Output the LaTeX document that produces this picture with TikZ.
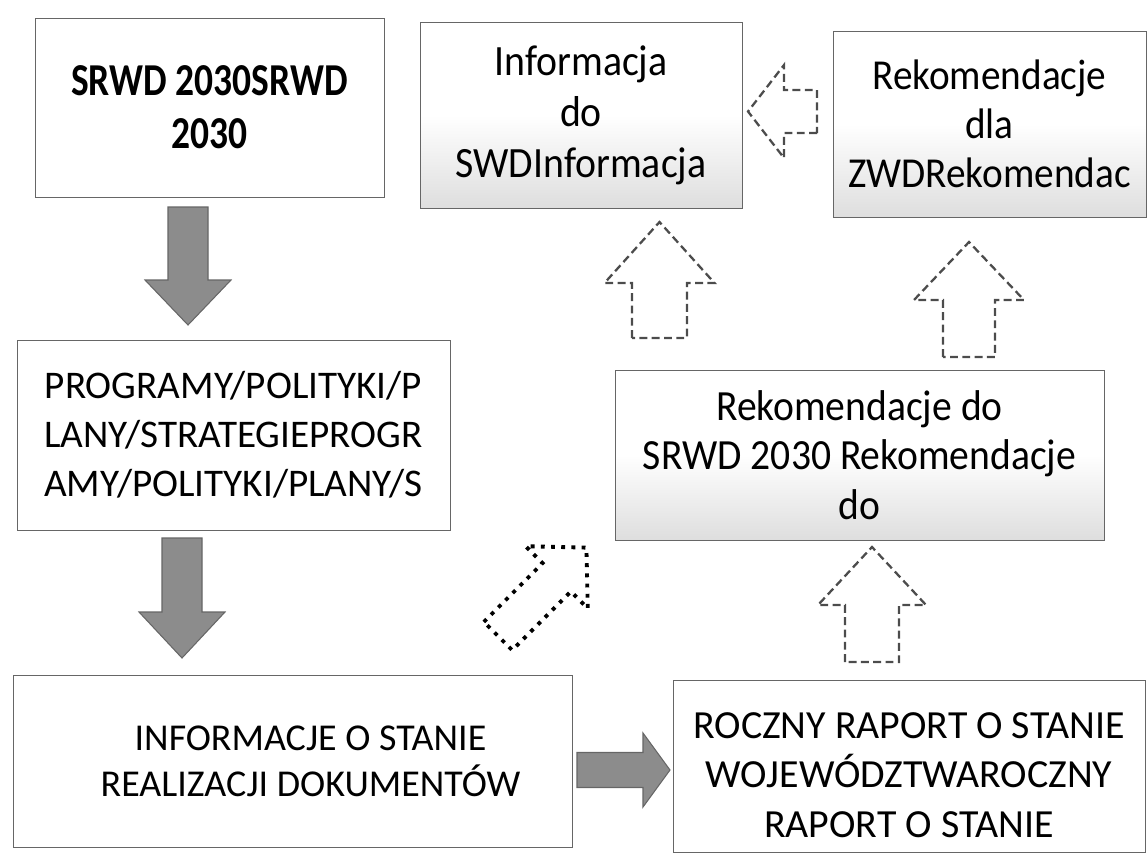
\documentclass[tikz,border=0pt]{standalone}
\usepackage{fontspec}
\setmainfont{Carlito}
\newfontfamily\narrowfont{Carlito}[FakeStretch=0.92]
\newfontfamily\boldnarrow{Carlito Bold}[FakeStretch=0.82]

% block arrow: [style]{tail}{angle}{length}{shaft half width}{head half width}{head length}
\newcommand{\BlockArrow}[7][]{%
  \begin{scope}[shift={#2},rotate=#3]
    \draw[#1] (0,-#5) -- ({#4-#7},-#5) -- ({#4-#7},-#6) -- (#4,0)
      -- ({#4-#7},#6) -- ({#4-#7},#5) -- (0,#5) -- cycle;
  \end{scope}}

\begin{document}
\begin{tikzpicture}[x=0.02cm, y=-0.02cm]
  \tikzstyle{box} = [rectangle, draw=black!60, line width=0.5pt,
                     align=center, inner sep=0pt]
  \tikzstyle{shadebox} = [box, top color=white, bottom color=black!13,
                          middle color=white]
  \tikzstyle{grayarrow} = [fill=black!45, draw=black!60, line width=0.6pt]
  \tikzstyle{dasharrow} = [draw=black!70, line width=1.3pt,
                           dash pattern=on 4.5pt off 2.5pt]
  \tikzstyle{dotarrow} = [draw=black, line width=2.2pt,
                          dash pattern=on 2.2pt off 3.6pt]

\useasboundingbox (0,0) rectangle (1148,866);

\node[box, minimum width=6.98cm, minimum height=3.58cm,
      font=\boldnarrow\fontsize{26}{30}\selectfont] (srwd) at (209.5,107.5)
      {SRWD 2030SRWD\\2030};
\node[shadebox, minimum width=6.44cm, minimum height=3.72cm,
      font=\narrowfont\fontsize{24.6}{29}\selectfont] (info) at (581,115)
      {Informacja\\do\\SWDInformacja};
\node[shadebox, minimum width=6.26cm, minimum height=3.72cm,
      font=\narrowfont\fontsize{24.3}{28}\selectfont] (rekzwd) at (989.5,124)
      {Rekomendacje\\dla\\ZWDRekomendac};
\node[box, minimum width=8.66cm, minimum height=3.8cm,
      font=\fontsize{22.3}{28}\selectfont] (prog) at (233.5,435)
      {PROGRAMY/POLITYKI/P\\LANY/STRATEGIEPROGR\\AMY/POLITYKI/PLANY/S};
\node[shadebox, minimum width=9.78cm, minimum height=3.4cm,
      font=\narrowfont\fontsize{24.5}{28}\selectfont] (reksrwd) at (859.5,455)
      {Rekomendacje do\\SRWD 2030 Rekomendacje\\do};
\node[box, minimum width=11.18cm, minimum height=3.44cm,
      label={[xshift=0.36cm, align=center,
              font=\fontsize{21.6}{26}\selectfont]center:INFORMACJE O STANIE\\REALIZACJI DOKUMENTÓW}]
      (infostan) at (292.5,761) {};
\node[box, minimum width=9.44cm, minimum height=3.44cm,
      label={[yshift=-0.18cm, align=center,
              font=\fontsize{22.7}{28}\selectfont]center:ROCZNY RAPORT O STANIE\\WOJEWÓDZTWAROCZNY\\RAPORT O STANIE}]
      (raport) at (909,766) {};

% arrow tails
\coordinate (srwdout) at (188,207);
\coordinate (progout) at (182,538);
\coordinate (infout)  at (577,770);
\coordinate (rapout)  at (872,662);
\coordinate (rekout1) at (659.5,338);
\coordinate (rekout2) at (969,357);
\coordinate (zwdout)  at (817,111.5);
\coordinate (diagout) at (498,636);

\BlockArrow[grayarrow]{(srwdout)}{-90}{118}{20}{43}{45}
\BlockArrow[grayarrow]{(progout)}{-90}{120}{20}{43}{46}
\BlockArrow[grayarrow]{(infout)}{0}{93}{17.5}{37}{27}
\BlockArrow[dasharrow]{(rapout)}{90}{115}{27}{54}{58}
\BlockArrow[dasharrow]{(rekout1)}{90}{116}{27.5}{55}{61}
\BlockArrow[dasharrow]{(rekout2)}{90}{115}{26}{55}{58}
\BlockArrow[dasharrow]{(zwdout)}{180}{69}{21.5}{46.5}{36}
\BlockArrow[dotarrow]{(diagout)}{45}{125}{20}{44}{42}

\end{tikzpicture}
\end{document}
